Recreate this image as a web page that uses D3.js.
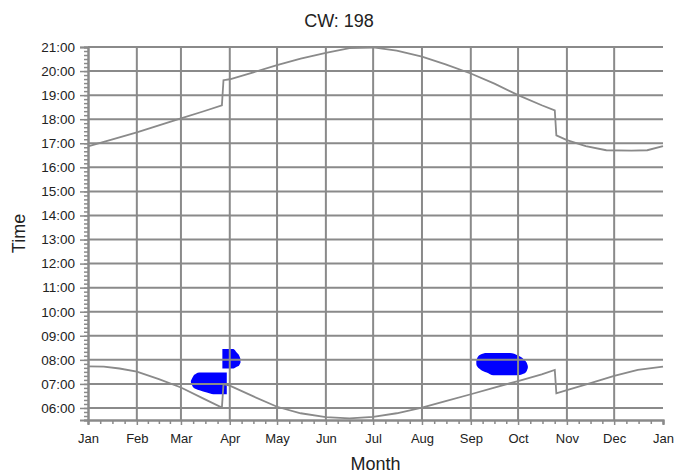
<!DOCTYPE html>
<html>
<head>
<meta charset="utf-8">
<script src="https://cdn.jsdelivr.net/npm/d3@7"></script>
<style>
  body { margin: 0; background: #fff; }
  text { font-family: "Liberation Sans", Arial, sans-serif; fill: #222; }
</style>
</head>
<body>
<svg id="chart" width="677" height="476"></svg>
<script>
// month axis
const monthNames = ["Jan", "Feb", "Mar", "Apr", "May", "Jun", "Jul", "Aug", "Sep", "Oct", "Nov", "Dec", "Jan"];
const monthStarts = [0, 31, 59, 90, 120, 151, 181, 212, 243, 273, 304, 334, 365];
const hourTicks = d3.range(6, 22);

// upper line (evening), day of year -> hour
const eveningDays  = [0, 15, 31, 45, 59, 73, 85, 86, 90, 105, 120, 135, 151, 166, 181, 196, 212, 227, 243, 258, 273, 288, 296.3, 297.3, 304, 316, 329, 345, 355, 365];
const eveningHours = [16.87, 17.15, 17.45, 17.74, 18.03, 18.32, 18.58, 19.62, 19.66, 19.95, 20.25, 20.52, 20.76, 20.95, 20.98, 20.85, 20.6, 20.28, 19.9, 19.48, 19.0, 18.58, 18.37, 17.33, 17.13, 16.88, 16.71, 16.69, 16.71, 16.88];

// lower line (morning)
const morningDays  = [0, 10, 20, 31, 45, 59, 73, 85, 86, 90, 105, 120, 135, 151, 166, 181, 196, 212, 227, 243, 258, 273, 288, 296.3, 297.3, 304, 319, 334, 349, 365];
const morningHours = [7.73, 7.72, 7.64, 7.51, 7.2, 6.85, 6.4, 6.02, 6.99, 6.93, 6.48, 6.05, 5.78, 5.62, 5.57, 5.63, 5.78, 6.01, 6.28, 6.57, 6.85, 7.12, 7.4, 7.58, 6.61, 6.74, 7.03, 7.33, 7.58, 7.72];

// blue regions: day, from hour, to hour
const marchDays = [65.3, 65.8, 66.9, 68.5, 70.7, 75.4, 79.6, 88.1];
const marchFrom = [7.07, 6.99, 6.85, 6.79, 6.74, 6.64, 6.57, 6.57];
const marchTo   = [7.12, 7.19, 7.33, 7.42, 7.47, 7.47, 7.47, 7.47];

const aprilDays = [85.3, 92.3, 94.4, 96.0, 96.8];
const aprilFrom = [7.64, 7.64, 7.71, 7.78, 7.88];
const aprilTo   = [8.45, 8.45, 8.30, 8.17, 8.03];

const septDays = [246.5, 246.8, 248.9, 253.1, 257.3, 267.9, 273.2, 276.4, 278.5, 279.2];
const septFrom = [7.83, 7.75, 7.61, 7.47, 7.36, 7.36, 7.36, 7.42, 7.54, 7.66];
const septTo   = [7.95, 8.03, 8.21, 8.28, 8.28, 8.28, 8.17, 8.04, 7.875, 7.74];

const svg = d3.select("#chart");
const margin = {top: 47, left: 88};
const plotRight = 663, plotBottom = 420;

const x = d3.scaleLinear().domain([0, 365]).range([margin.left, plotRight]);
const y = d3.scaleLinear().domain([5.5, 21]).range([plotBottom, margin.top]);

const gray = "#8a8a8a";

// blue regions (under the grid)
const blobs = [
  d3.zip(marchDays, marchFrom, marchTo),
  d3.zip(aprilDays, aprilFrom, aprilTo),
  d3.zip(septDays, septFrom, septTo)
];
const area = d3.area()
  .x(d => x(d[0]))
  .y0(d => y(d[1]))
  .y1(d => y(d[2]))
  .curve(d3.curveMonotoneX);
svg.append("g").selectAll("path")
  .data(blobs)
  .join("path")
  .attr("d", area)
  .attr("fill", "#0000ff");

// grid
const grid = svg.append("g").attr("stroke", gray).attr("stroke-width", 2);
grid.selectAll("line.h")
  .data(hourTicks)
  .join("line")
  .attr("class", "h")
  .attr("x1", margin.left).attr("x2", plotRight)
  .attr("y1", d => y(d)).attr("y2", d => y(d));
grid.selectAll("line.v")
  .data(monthStarts.slice(1, 12))
  .join("line")
  .attr("class", "v")
  .attr("x1", d => x(d)).attr("x2", d => x(d))
  .attr("y1", margin.top).attr("y2", plotBottom);

// lines
const line = d3.line().x(d => x(d[0])).y(d => y(d[1]));
svg.append("path")
  .datum(d3.zip(eveningDays, eveningHours))
  .attr("d", line)
  .attr("fill", "none").attr("stroke", gray).attr("stroke-width", 1.8);
svg.append("path")
  .datum(d3.zip(morningDays, morningHours))
  .attr("d", line)
  .attr("fill", "none").attr("stroke", gray).attr("stroke-width", 1.8);

// axes
function styleAxis(g) {
  g.select(".domain").attr("stroke", gray).attr("stroke-width", 2);
  g.selectAll(".tick line").attr("stroke", gray).attr("stroke-width", 1.5);
  g.selectAll(".tick text").attr("fill", "#222");
}

const minorHours = d3.range(5.5, 21.001, 1 / 6);
svg.append("g")
  .attr("transform", `translate(${margin.left},0)`)
  .call(d3.axisLeft(y).tickValues(minorHours).tickSize(4).tickFormat(""))
  .call(styleAxis);
svg.append("g")
  .attr("transform", `translate(${margin.left},0)`)
  .call(d3.axisLeft(y).tickValues(hourTicks).tickSize(8).tickPadding(5)
    .tickFormat(h => d3.format("02d")(h) + ":00"))
  .call(styleAxis)
  .call(g => g.selectAll(".tick text").style("font-size", "13.5px"));

const minorDays = [];
monthStarts.slice(0, 12).forEach((d, i) => {
  const len = monthStarts[i + 1] - d;
  for (let k = 1; k < 4; k++) minorDays.push(d + len * k / 4);
});
svg.append("g")
  .attr("transform", `translate(0,${plotBottom})`)
  .call(d3.axisBottom(x).tickValues(minorDays).tickSize(4).tickFormat(""))
  .call(styleAxis);
svg.append("g")
  .attr("transform", `translate(0,${plotBottom})`)
  .call(d3.axisBottom(x).tickValues(monthStarts).tickSize(5).tickPadding(9)
    .tickFormat((d, i) => monthNames[i]))
  .call(styleAxis)
  .call(g => g.selectAll(".tick text").style("font-size", "13px"));

// titles
svg.append("text")
  .attr("x", 339).attr("y", 27)
  .attr("text-anchor", "middle")
  .style("font-size", "18px")
  .text("CW: 198");
svg.append("text")
  .attr("x", (margin.left + plotRight) / 2).attr("y", 470)
  .attr("text-anchor", "middle")
  .style("font-size", "18px")
  .text("Month");
svg.append("text")
  .attr("transform", `translate(25,${(margin.top + plotBottom) / 2}) rotate(-90)`)
  .attr("text-anchor", "middle")
  .style("font-size", "18px")
  .text("Time");
</script>
</body>
</html>
